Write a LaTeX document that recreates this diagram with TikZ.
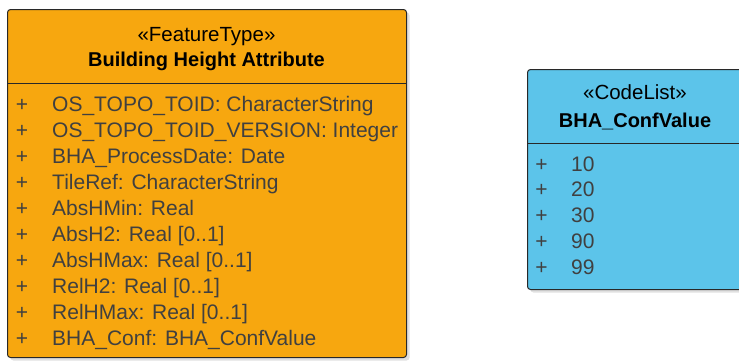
\documentclass[tikz,border=0pt]{standalone}
\usepackage{fontspec}
\setmainfont{Liberation Sans}
\usetikzlibrary{shadows}
\definecolor{ftorange}{RGB}{247,167,15}
\definecolor{clblue}{RGB}{92,196,234}
\definecolor{attrgray}{RGB}{64,64,64}
\definecolor{edgegray}{RGB}{40,40,40}
\tikzset{
  umlbox/.style={draw=edgegray, line width=1pt, rounded corners=3pt, anchor=north west, inner sep=0pt,
    drop shadow={shadow xshift=3pt, shadow yshift=-3pt, fill=black, opacity=0.12}},
  stereo/.style={anchor=base, inner sep=0pt, font=\fontsize{20.5}{24}\selectfont, text=black},
  title/.style={anchor=base, inner sep=0pt, font=\fontsize{20}{24}\selectfont\bfseries, text=black},
  attr/.style={anchor=base west, inner sep=0pt, font=\fontsize{21}{24}\selectfont, text=attrgray},
  vis/.style={anchor=base, inner sep=0pt, font=\fontsize{21}{24}\selectfont, text=attrgray},
  divider/.style={draw=edgegray, line width=1pt}
}
\begin{document}
\begin{tikzpicture}[x=1pt,y=-1pt]
\useasboundingbox (0,0) rectangle (739,360);
% Feature type box
\node[umlbox, fill=ftorange, minimum width=399pt, minimum height=348pt] (fta) at (7,9) {};
\draw[divider] (fta.west |- 0,83) -- (fta.east |- 0,83);
\node[stereo] (ftst) at (206.5,41) {«FeatureType»};
\node[title] (ftti) at (206.5,66) {Building Height Attribute};
\foreach \i/\t in {0/{OS\_TOPO\_TOID: CharacterString},
                   1/{OS\_TOPO\_TOID\_VERSION: Integer},
                   2/{BHA\_ProcessDate: Date},
                   3/{TileRef: CharacterString},
                   4/{AbsHMin: Real},
                   5/{AbsH2: Real [0..1]},
                   6/{AbsHMax: Real [0..1]},
                   7/{RelH2: Real [0..1]},
                   8/{RelHMax: Real [0..1]},
                   9/{BHA\_Conf: BHA\_ConfValue}} {
  \node[vis] (fp\i) at (22,{111+26*\i}) {+};
  \node[attr] (fa\i) at (52,{111+26*\i}) {\t};
}
% Code list box
\node[umlbox, fill=clblue, minimum width=216pt, minimum height=220pt] (cl) at (527,69) {};
\draw[divider] (cl.west |- 0,143) -- (cl.east |- 0,143);
\node[stereo] (clst) at (635,99) {«CodeList»};
\node[title] (clti) at (635,127) {BHA\_ConfValue};
\foreach \i/\t in {0/10, 1/20, 2/30, 3/90, 4/99} {
  \node[vis] (cp\i) at (541.5,{171+25.8*\i}) {+};
  \node[attr] (ca\i) at (571,{171+25.8*\i}) {\t};
}
\end{tikzpicture}
\end{document}
